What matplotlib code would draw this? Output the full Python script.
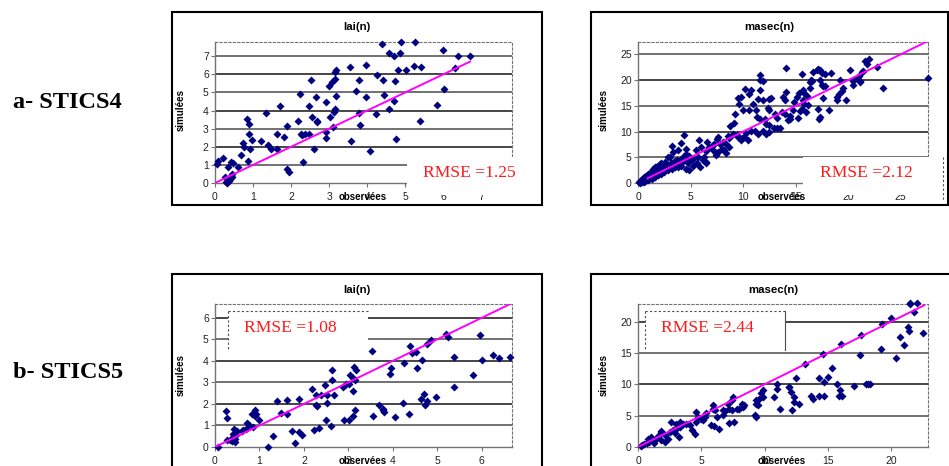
import matplotlib
matplotlib.use('Agg')
import matplotlib.pyplot as plt
from matplotlib.patches import Rectangle
from matplotlib.lines import Line2D

# --- données ---
# a- STICS4, lai(n)
lai4_obs = [0.04, 0.09, 0.22, 0.26, 0.30, 0.35, 0.38, 0.42, 0.48, 0.44,
            0.45, 0.39, 0.32, 0.36, 0.42, 0.61, 0.68, 0.73, 0.75, 0.83,
            0.88, 0.88, 0.86, 0.92, 0.98, 1.20, 1.33, 1.39, 1.46, 1.62,
            1.64, 1.71, 1.80, 1.88, 1.89, 1.95, 2.19, 2.24, 2.25, 2.28,
            2.32, 2.37, 2.48, 2.48, 2.52, 2.54, 2.61, 2.66, 2.68, 2.68,
            2.91, 2.91, 2.91, 3.00, 3.03, 3.06, 3.11, 3.13, 3.16, 3.14,
            3.14, 3.18, 3.18, 3.55, 3.57, 3.71, 3.77, 3.79, 3.82, 3.97,
            3.97, 4.06, 4.22, 4.25, 4.39, 4.41, 4.43, 4.56, 4.56, 4.69,
            4.69, 4.74, 4.75, 4.80, 4.85, 4.89, 5.01, 5.22, 5.26, 5.38,
            5.40, 5.83, 6.00, 6.02, 6.29, 6.39, 6.69]
lai4_sim = [1.06, 1.24, 1.39, 0.33, 0.05, 0.88, 0.15, 1.15, 1.12, 0.51,
            0.33, 0.24, 0.02, 0.10, 0.40, 0.88, 1.56, 2.20, 1.98, 3.52,
            3.26, 2.71, 1.19, 1.89, 2.38, 2.29, 3.86, 2.07, 1.89, 2.71,
            1.89, 4.23, 2.53, 3.17, 0.79, 0.60, 3.44, 4.91, 2.71, 2.66,
            1.14, 2.71, 2.71, 4.23, 5.71, 3.63, 1.89, 4.73, 3.44, 3.35,
            4.49, 2.47, 2.84, 5.33, 3.63, 5.60, 3.08, 3.90, 4.08, 5.75,
            6.14, 6.23, 4.82, 6.41, 2.34, 5.09, 5.71, 3.86, 3.22, 6.50,
            4.76, 1.79, 3.81, 5.97, 7.66, 5.71, 4.85, 4.08, 7.20, 7.01,
            4.54, 5.64, 2.44, 6.23, 7.20, 7.78, 6.23, 6.46, 7.78, 3.44,
            6.41, 4.29, 7.33, 5.18, 6.34, 7.01, 7.01]

# a- STICS4, masec(n)
masec4_obs = [14.13, 15.65, 16.35, 15.78, 15.71, 15.84, 15.59, 15.4, 14.81, 14.75,
              14.48, 14.44, 15.2, 16.0, 16.2, 16.1, 15.7, 15.3, 15.1, 16.4,
              16.5, 16.7, 17.0, 17.1, 17.3, 17.55, 17.8, 18.4, 16.6, 17.3,
              17.5, 17.6, 17.8, 17.3, 17.2, 17.1, 17.6, 18.2, 18.9, 18.95,
              19.1, 19.4, 19.5, 19.2, 19.8, 20.2, 20.5, 20.8, 21.0, 21.1,
              21.3, 21.4, 21.6, 21.8, 22.0, 22.7, 23.3, 27.6, 20.5, 21.1,
              14.1, 13.8, 14.0, 13.7, 14.0, 14.3, 13.0, 13.2, 13.5, 13.2,
              12.9, 12.5, 12.2, 12.5, 12.4, 12.5, 12.7, 11.9, 11.4, 11.6,
              11.85, 11.65, 11.6, 10.8, 10.6, 10.2, 9.8, 9.5, 9.6, 10.0,
              10.6, 11.2, 10.9, 11.3, 11.65, 12.1, 11.9, 12.2, 12.5, 11.4,
              11.1, 10.8, 10.3, 10.1, 10.5, 9.8, 9.5, 9.1, 9.2, 8.8,
              8.6, 9.0, 9.4, 8.1, 7.8, 8.4, 8.7, 8.0, 7.6, 7.4,
              7.1, 6.8, 7.2, 7.5, 6.5, 6.3, 6.5, 6.2, 6.0, 5.5,
              5.7, 5.2, 4.9, 4.6, 4.4, 4.1, 3.8, 3.2, 3.3, 3.0,
              3.5, 4.0, 4.3, 4.4, 4.8, 3.8, 4.1,
              4.56, 5.8, 6.6, 7.1, 7.57, 8.2, 8.7, 6.46, 7.4, 8.36, 9.9,
              0.16, 0.3, 0.5, 0.6, 0.8, 0.95, 1.1, 1.3, 1.4, 1.6,
              1.75, 1.9, 2.1, 2.2, 0.4, 0.6, 0.95, 1.3, 1.6, 1.9,
              2.2, 2.5, 2.9, 3.2, 3.5, 3.8, 0.85, 1.2, 1.5, 1.8,
              2.1, 2.4, 2.8, 3.1, 3.4, 3.7, 2.6, 2.9, 2.2, 1.75,
              1.4, 1.1, 0.8, 0.5, 0.15, 0.1, 0.25, 4.9, 4.6, 5.2,
              5.6, 5.9, 0.7, 1.0, 2.0, 2.7, 3.4, 4.2, 4.6, 5.0]
masec4_sim = [22.3, 21.2, 18.5, 17.5, 16.1, 15.3, 14.4, 13.9, 15.7, 14.1,
              13.1, 12.5, 12.7, 13.8, 15.1, 17.0, 18.0, 17.4, 16.7, 19.7,
              20.1, 21.6, 21.9, 22.2, 21.9, 21.4, 21.2, 21.4, 19.9, 20.1,
              19.0, 18.8, 18.9, 12.8, 12.4, 14.4, 16.5, 14.1, 16.1, 16.8,
              17.2, 17.9, 18.5, 20.1, 16.1, 22.0, 19.8, 20.4, 20.7, 19.9,
              21.6, 21.8, 23.8, 23.2, 24.0, 22.5, 18.5, 20.4, 19.0, 19.6,
              17.7, 16.7, 16.1, 13.8, 13.5, 12.3, 13.5, 12.7, 10.7, 10.7,
              10.7, 11.2, 11.5, 14.1, 14.6, 16.3, 16.6, 16.1, 16.4, 18.0,
              19.8, 20.9, 20.1, 18.0, 17.2, 18.3, 16.7, 16.6, 15.4, 14.1,
              14.1, 14.1, 15.3, 12.8, 12.4, 12.5, 10.2, 9.6, 9.9, 9.6,
              10.1, 10.2, 9.7, 8.9, 8.4, 8.3, 8.9, 11.7, 13.5, 11.0,
              9.1, 9.6, 9.4, 8.0, 7.6, 7.5, 6.9, 6.7, 6.0, 5.4,
              6.5, 7.0, 7.6, 8.6, 6.3, 5.1, 4.1, 4.4, 7.0, 6.5,
              5.1, 4.7, 5.2, 5.6, 9.3, 7.8, 6.5, 7.1, 6.0, 5.1,
              4.3, 4.5, 5.1, 4.4, 3.8, 3.1, 3.4,
              6.7, 8.35, 8.0, 7.4, 9.0, 6.4, 8.7, 3.8, 5.8, 5.8, 8.7,
              0.2, 0.5, 0.85, 1.2, 1.3, 1.7, 1.9, 2.3, 2.8, 3.1,
              3.2, 3.4, 3.6, 3.8, 0.1, 0.2, 0.5, 0.85, 1.2, 1.5,
              1.8, 2.1, 2.5, 2.8, 3.1, 3.4, 0.65, 1.2, 1.7, 2.1,
              2.6, 3.1, 3.4, 3.8, 4.1, 4.4, 4.1, 5.1, 3.1, 2.5,
              1.8, 1.5, 0.85, 0.5, 0.0, 0.1, 0.3, 2.5, 2.8, 3.4,
              3.8, 3.1, 0.3, 0.7, 2.0, 2.9, 3.6, 4.0, 4.6, 4.4]

# b- STICS5, lai(n)
lai5_obs = [0.06, 0.24, 0.27, 0.28, 0.34, 0.38, 0.40, 0.43, 0.41, 0.45,
            0.47, 0.49, 0.46, 0.60, 0.64, 0.70, 0.73, 0.77, 0.83, 0.86,
            0.89, 0.90, 0.92, 0.98, 1.20, 1.31, 1.40, 1.48, 1.61, 1.63,
            1.73, 1.81, 1.88, 1.90, 1.95, 2.19, 2.23, 2.27, 2.27, 2.29,
            2.33, 2.38, 2.48, 2.50, 2.53, 2.53, 2.60, 2.64, 2.64, 2.67,
            2.87, 2.90, 2.95, 3.02, 3.02, 3.04, 3.10, 3.10, 3.11, 3.13,
            3.15, 3.15, 3.17, 3.54, 3.55, 3.69, 3.77, 3.79, 3.78, 3.94,
            3.96, 4.05, 4.22, 4.24, 4.37, 4.38, 4.42, 4.52, 4.54, 4.64,
            4.65, 4.70, 4.73, 4.76, 4.76, 4.86, 4.97, 5.20, 5.25, 5.37,
            5.38, 5.81, 5.96, 6.00, 6.25, 6.38, 6.64]
lai5_sim = [0.00, 1.67, 1.36, 0.31, 0.34, 0.26, 0.59, 0.82, 0.47, 0.39,
            0.54, 0.74, 0.23, 0.73, 0.81, 0.85, 1.13, 1.01, 1.55, 0.93,
            1.71, 1.43, 1.52, 1.24, 0.00, 0.50, 2.12, 1.60, 2.20, 1.52,
            0.74, 0.20, 2.22, 0.70, 0.54, 2.71, 0.81, 2.40, 1.97, 1.91,
            0.90, 2.43, 2.87, 1.24, 2.43, 2.05, 0.98, 3.57, 3.10, 2.40,
            2.79, 1.24, 2.91, 1.24, 2.91, 3.33, 3.22, 1.43, 2.60, 3.72,
            3.10, 1.74, 3.57, 4.45, 1.44, 1.97, 1.78, 1.63, 1.71, 3.38,
            3.69, 1.40, 2.02, 3.88, 1.55, 4.68, 4.37, 4.39, 3.67, 2.25,
            4.03, 2.48, 1.97, 2.12, 4.77, 4.96, 2.33, 5.27, 5.12, 2.79,
            4.19, 3.36, 5.22, 4.03, 4.26, 4.14, 4.19]

# b- STICS5, masec(n)
masec5_obs = [21.45, 21.5, 22.0, 21.8, 22.5, 20.0, 19.3, 19.2, 20.4, 20.7,
              21.0, 21.3, 21.4, 17.6, 17.55, 16.05, 14.6, 14.3, 14.7, 15.0,
              15.3, 14.3, 14.7, 13.7, 13.8, 13.2, 12.5, 11.9, 11.95, 12.1,
              12.3, 12.3, 12.7, 12.2, 11.2, 11.0, 11.0, 10.7, 9.9, 9.9,
              9.7, 9.55, 9.3, 9.3, 9.5, 9.2, 9.3, 15.7, 15.97, 15.9,
              16.1, 17.05, 18.0, 18.3, 18.2, 8.2, 8.4, 8.3, 8.0, 7.8,
              7.4, 7.2, 7.5, 7.4, 7.1, 6.7, 6.7, 6.9, 7.6, 7.2,
              6.4, 6.2, 6.05, 5.9, 5.9, 5.8, 6.0, 5.4, 5.3, 5.1,
              5.0, 4.7, 4.6, 4.55, 4.5, 4.3, 4.1, 3.8, 3.55, 3.3,
              3.3, 3.2, 3.0, 2.8, 2.5, 2.4, 2.1, 1.8, 1.8, 1.6,
              1.45, 1.3, 1.2, 0.9, 0.7, 0.5, 0.35, 0.2, 3.0, 2.6,
              2.1, 1.8, 1.05, 0.8, 2.9]
masec5_sim = [22.8, 23.0, 22.9, 21.6, 18.1, 20.6, 19.6, 15.7, 14.2, 17.6,
              16.3, 19.2, 18.5, 17.9, 14.7, 16.4, 14.8, 11.0, 10.4, 11.2,
              12.6, 8.1, 8.1, 8.1, 7.6, 13.3, 11.0, 9.6, 9.6, 8.7,
              8.0, 7.2, 6.8, 5.9, 6.1, 10.1, 9.2, 8.0, 9.1, 8.0,
              8.6, 7.7, 7.5, 6.9, 6.7, 5.1, 4.8, 10.0, 9.1, 8.1,
              8.1, 9.7, 10.0, 10.0, 10.0, 6.9, 6.7, 6.4, 6.1, 6.0,
              5.9, 6.1, 8.0, 7.5, 6.9, 5.9, 5.1, 5.8, 4.0, 3.9,
              2.8, 4.8, 5.9, 6.7, 6.1, 3.5, 3.3, 5.4, 4.8, 4.3,
              4.4, 4.8, 5.6, 4.0, 2.1, 2.7, 3.5, 3.7, 3.6, 4.0,
              3.2, 1.6, 2.9, 2.7, 2.4, 1.3, 0.8, 1.1, 2.4, 1.7,
              1.3, 0.6, 1.1, 0.8, 0.6, 0.4, 0.3, 0.1, 3.7, 4.0,
              1.9, 2.6, 1.6, 1.3, 2.2]

rmse_values = ['1.25', '2.12', '1.08', '2.44']
titles = ['lai(n)', 'masec(n)', 'lai(n)', 'masec(n)']
row_labels = ['a- STICS4', 'b- STICS5']

W, H = 949, 466
fig = plt.figure(figsize=(W / 100, H / 100), dpi=100)
plt.rcParams['font.family'] = ['Liberation Sans', 'DejaVu Sans']


def fx(px):
    return px / W


def fy(py):
    return 1 - py / H


def frect(l, t, r, b):
    return [fx(l), fy(b), fx(r) - fx(l), fy(t) - fy(b)]


def fig_line(x0, y0, x1, y1, ls='-', color='black', lw=1.0, z=8):
    fig.add_artist(Line2D([fx(x0), fx(x1)], [fy(y0), fy(y1)], transform=fig.transFigure,
                          color=color, lw=lw, linestyle=ls, zorder=z))


# mise en page de chaque graphique (pixels)
panels = [
    dict(obs=lai4_obs, sim=lai4_sim, ax=(215, 42, 512, 183), frame=(172, 12, 542, 205),
         lim=(7.8, 7.78), xt=range(0, 8), yt=range(0, 8), one=(0, 6.7),
         title_y=27, lab_y=110, xlab=(363, 197), rmse_xy=(469, 173),
         box=(407, 157, 543, 195)),
    dict(obs=masec4_obs, sim=masec4_sim, ax=(638, 42, 928, 183), frame=(591, 12, 948, 205),
         lim=(27.6, 27.4), xt=range(0, 30, 5), yt=range(0, 30, 5), one=(0.9, 27.6),
         title_y=27, lab_y=110, xlab=(782, 197), rmse_xy=(866, 173),
         box=(803, 157, 943, 195)),
    dict(obs=lai5_obs, sim=lai5_sim, ax=(215, 304, 512, 447), frame=(172, 274, 542, 480),
         lim=(6.68, 6.64), xt=range(0, 7), yt=range(0, 7), one=(0, 6.68),
         title_y=290, lab_y=375, xlab=(363, 461), rmse_xy=(290, 328),
         box=(228, 311, 368, 350)),
    dict(obs=masec5_obs, sim=masec5_sim, ax=(638, 304, 928, 447), frame=(591, 274, 960, 480),
         lim=(22.9, 22.8), xt=range(0, 25, 5), yt=range(0, 25, 5), one=(0, 22.6),
         title_y=290, lab_y=375, xlab=(782, 461), rmse_xy=(707, 328),
         box=(645, 311, 785, 350)),
]

for i, p in enumerate(panels):
    l, t, r, b = p['ax']
    ax = fig.add_axes(frect(l, t, r, b))
    ax.set_facecolor('white')
    ax.set_xlim(0, p['lim'][0])
    ax.set_ylim(0, p['lim'][1])
    ax.set_xticks(list(p['xt']))
    ax.set_yticks(list(p['yt']))
    ax.tick_params(direction='out', length=3, width=0.8, color='0.45',
                   labelsize=7.5, labelcolor='#222222')
    ax.tick_params(axis='y', pad=1.5)
    ax.tick_params(axis='x', pad=3.5)
    for s in ['left', 'bottom']:
        ax.spines[s].set_color('0.45')
        ax.spines[s].set_linewidth(1.0)
    for s in ['top', 'right']:
        ax.spines[s].set_color('0.45')
        ax.spines[s].set_linewidth(0.8)
        ax.spines[s].set_linestyle((0, (2, 2)))
    for k, yv in enumerate(list(p['yt'])[1:]):
        ax.axhline(yv, color='0.15' if k % 2 else '0.35', lw=1.2, zorder=1)
    ax.plot(p['obs'], p['sim'], 'D', ms=4, color='#000080', mec='none',
            zorder=3, clip_on=False)
    a, e = p['one']
    ax.plot([a, e], [a, e], color='#ff00ff', lw=1.4, zorder=4)

    # cadre du graphique
    fl, ft, fr, fb = p['frame']
    fig.add_artist(Rectangle((fx(fl), fy(fb)), fx(fr) - fx(fl), fy(ft) - fy(fb),
                             transform=fig.transFigure, fill=False, ec='black',
                             lw=1.5, zorder=9))

    fig.text(fx((fl + fr) / 2 if i < 3 else 773), fy(p['title_y']), titles[i],
             ha='center', va='center', fontsize=8.2, fontweight='bold')
    fig.text(fx(l - 34), fy(p['lab_y']), 'simulées', rotation=90,
             ha='center', va='center', fontsize=7, fontweight='bold')
    fig.text(fx(p['xlab'][0]), fy(p['xlab'][1]), 'observées',
             ha='center', va='center', fontsize=7, fontweight='bold', zorder=7)

    # cadre blanc du RMSE
    bl, bt, br, bb = p['box']
    fig.add_artist(Rectangle((fx(bl), fy(bb)), fx(br) - fx(bl), fy(bt) - fy(bb),
                             transform=fig.transFigure, fc='white', ec='none', zorder=6))
    fig.text(fx(p['rmse_xy'][0]), fy(p['rmse_xy'][1]), 'RMSE =' + rmse_values[i],
             ha='center', va='center', fontsize=12.6, color='#ff1a1a',
             family='Liberation Serif', zorder=7)

# bordures pointillées des cadres RMSE
fig_line(943, 157, 943, 200, ls=(0, (2, 2)), color='0.3', lw=0.8)
fig_line(228, 311, 368, 311, ls=(0, (2, 2)), color='0.3', lw=0.8)
fig_line(228, 311, 228, 350, ls=(0, (2, 2)), color='0.3', lw=0.8)
fig_line(645, 311, 785, 311, ls=(0, (2, 2)), color='0.3', lw=0.8)
fig_line(645, 311, 645, 350, ls=(0, (2, 2)), color='0.3', lw=0.8)
fig_line(785, 311, 785, 350, color='0.3', lw=0.8)

fig.text(fx(13), fy(103), row_labels[0], ha='left', va='center', fontsize=17.5,
         fontweight='bold', family='Liberation Serif')
fig.text(fx(13), fy(373), row_labels[1], ha='left', va='center', fontsize=17.5,
         fontweight='bold', family='Liberation Serif')

fig.savefig('out.png', dpi=100, facecolor='white')
